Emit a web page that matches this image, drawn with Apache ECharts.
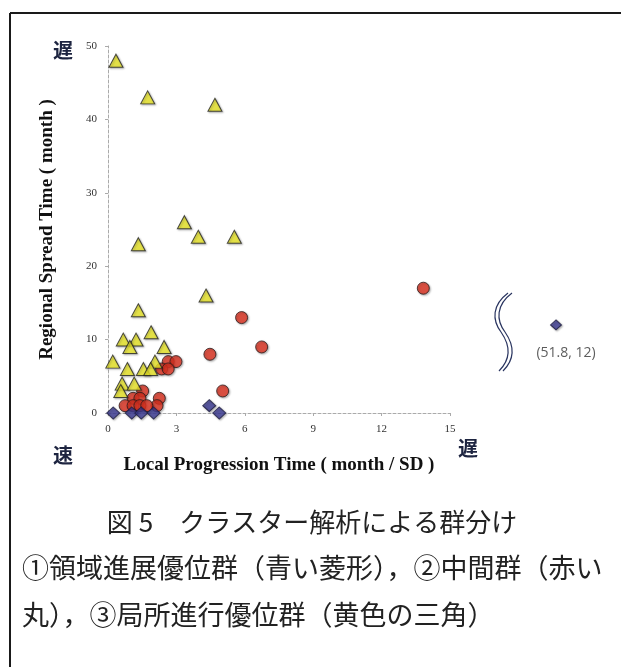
<!DOCTYPE html>
<html>
<head>
<meta charset="utf-8">
<script src="https://cdn.jsdelivr.net/npm/echarts@6/dist/echarts.min.js"></script>
<style>
html,body{margin:0;padding:0;background:#fff;}
#c{width:621px;height:667px;}
</style>
</head>
<body>
<div id="c"></div>
<script>
// ---- data ----
const xTicks = [0, 3, 6, 9, 12, 15];
const yTicks = [0, 10, 20, 30, 40, 50];

// ③ yellow triangles
const triX = [0.35, 1.74, 4.69, 3.35, 3.96, 5.54, 1.33, 4.3, 1.33, 1.89, 0.67, 1.23, 0.96, 2.46, 0.21, 2.06, 0.85, 1.55, 1.87, 0.62, 1.15, 0.56];
const triY = [48, 43, 42, 26, 24, 24, 23, 16, 14, 11, 10, 10, 9, 9, 7, 7, 6, 6, 6, 4, 4, 3];

// ② red circles
const cirX = [13.83, 5.86, 6.74, 4.47, 2.64, 2.98, 2.35, 2.64, 5.03, 1.52, 2.25, 1.1, 1.4, 2.15, 0.75, 1.1, 1.4, 1.7];
const cirY = [17, 13, 9, 8, 7, 7, 6, 6, 3, 3, 2, 2, 2, 1, 1, 1, 1, 1];

// ① blue diamonds
const diaX = [0.23, 1.04, 1.46, 2.0, 4.44, 4.88];
const diaY = [0, 0, 0, 0, 1, 0];

// off-scale outlier (beyond axis break)
const outX = [51.8];
const outY = [12];

const xTitle = 'Local Progression Time ( month / SD )';
const yTitle = 'Regional Spread Time ( month )';
const caption1 = '図 5　クラスター解析による群分け';
const caption2 = '①領域進展優位群（青い菱形），②中間群（赤い';
const caption3 = '丸），③局所進行優位群（黄色の三角）';

// ---- chart ----
const zip = (xs, ys) => xs.map((x, i) => [x, ys[i]]);
const shadow = {shadowColor: 'rgba(0,0,0,0.35)', shadowBlur: 2, shadowOffsetX: 1, shadowOffsetY: 1};
const serif = '"Liberation Serif", "DejaVu Serif", serif';
const jp = '"Noto Sans CJK JP", sans-serif';

const chart = echarts.init(document.getElementById('c'), null, {renderer: 'canvas'});
chart.setOption({
  animation: false,
  backgroundColor: '#fff',
  grid: [
    {left: 108, top: 46, width: 342, bottom: 254},
    {left: 520, top: 46, width: 80, bottom: 254}
  ],
  xAxis: [
    {
      gridIndex: 0, type: 'value', min: xTicks[0], max: xTicks[xTicks.length - 1], interval: 3,
      name: xTitle, nameLocation: 'middle', nameGap: 43,
      nameTextStyle: {fontFamily: serif, fontWeight: 'bold', fontSize: 19, color: '#111'},
      axisLine: {show: true, lineStyle: {color: '#aaa', type: [3, 2], width: 1}},
      axisTick: {show: true, length: 3, lineStyle: {color: '#aaa'}},
      axisLabel: {fontFamily: serif, fontSize: 11, color: '#333', margin: 11},
      splitLine: {show: false}
    },
    {gridIndex: 1, type: 'value', min: 50, max: 54, show: false}
  ],
  yAxis: [
    {
      gridIndex: 0, type: 'value', min: yTicks[0], max: yTicks[yTicks.length - 1], interval: 10,
      name: yTitle, nameLocation: 'middle', nameGap: 51, nameRotate: 90,
      nameTextStyle: {fontFamily: serif, fontWeight: 'bold', fontSize: 19, color: '#111'},
      axisLine: {show: true, lineStyle: {color: '#aaa', type: [3, 2], width: 1}},
      axisTick: {show: true, length: 3, lineStyle: {color: '#aaa'}},
      axisLabel: {fontFamily: serif, fontSize: 11, color: '#333', margin: 11},
      splitLine: {show: false}
    },
    {gridIndex: 1, type: 'value', min: 0, max: 50, show: false}
  ],
  series: [
    {
      type: 'scatter', xAxisIndex: 0, yAxisIndex: 0, symbol: 'circle', symbolSize: 12,
      itemStyle: Object.assign({color: '#e03322', borderColor: '#2a1a1a', borderWidth: 1}, shadow),
      data: zip(cirX, cirY)
    },
    {
      type: 'scatter', xAxisIndex: 0, yAxisIndex: 0, symbol: 'triangle', symbolSize: [14, 13],
      itemStyle: Object.assign({color: '#eeea2a', borderColor: '#222', borderWidth: 1}, shadow),
      data: zip(triX, triY)
    },
    {
      type: 'scatter', xAxisIndex: 0, yAxisIndex: 0, symbol: 'diamond', symbolSize: [13, 12],
      itemStyle: Object.assign({color: '#3d3c96', borderColor: '#1c1c40', borderWidth: 1}, shadow),
      data: zip(diaX, diaY)
    },
    {
      type: 'scatter', xAxisIndex: 1, yAxisIndex: 1, symbol: 'diamond', symbolSize: [11, 10],
      itemStyle: Object.assign({color: '#3d3c96', borderColor: '#1c1c40', borderWidth: 1}, shadow),
      label: {
        show: true, position: 'bottom', distance: 16, offset: [10, 0],
        formatter: p => '(' + p.value[0] + ', ' + p.value[1] + ')',
        fontFamily: '"Open Sans", sans-serif', fontSize: 14, color: '#333'
      },
      data: zip(outX, outY)
    }
  ],
  graphic: [
    // frame
    {type: 'line', shape: {x1: 10, y1: 13, x2: 621, y2: 13}, style: {stroke: '#1a1a1a', lineWidth: 2}},
    {type: 'line', shape: {x1: 10, y1: 13, x2: 10, y2: 667}, style: {stroke: '#1a1a1a', lineWidth: 2}},
    // slow / fast markers
    {type: 'text', x: 63, y: 50, style: {text: '遅', font: 'bold 20px ' + jp, fill: '#1d2440', textAlign: 'center', textVerticalAlign: 'middle'}},
    {type: 'text', x: 63, y: 455, style: {text: '速', font: 'bold 20px ' + jp, fill: '#1d2440', textAlign: 'center', textVerticalAlign: 'middle'}},
    {type: 'text', x: 468, y: 448, style: {text: '遅', font: 'bold 20px ' + jp, fill: '#1d2440', textAlign: 'center', textVerticalAlign: 'middle'}},
    // axis break mark
    {type: 'bezierCurve', shape: {x1: 508, y1: 293, x2: 501, y2: 332, cpx1: 492, cpy1: 305, cpx2: 492, cpy2: 320}, style: {stroke: '#2a3560', lineWidth: 1.2, fill: null}},
    {type: 'bezierCurve', shape: {x1: 501, y1: 332, x2: 499, y2: 371, cpx1: 510, cpy1: 345, cpx2: 512, cpy2: 358}, style: {stroke: '#2a3560', lineWidth: 1.2, fill: null}},
    {type: 'bezierCurve', shape: {x1: 512, y1: 293, x2: 505, y2: 332, cpx1: 496, cpy1: 305, cpx2: 496, cpy2: 320}, style: {stroke: '#2a3560', lineWidth: 1.2, fill: null}},
    {type: 'bezierCurve', shape: {x1: 505, y1: 332, x2: 503, y2: 371, cpx1: 514, cpy1: 345, cpx2: 516, cpy2: 358}, style: {stroke: '#2a3560', lineWidth: 1.2, fill: null}},
    // caption
    {type: 'text', x: 312, y: 522, style: {text: caption1, font: '26px ' + jp, fill: '#222', textAlign: 'center', textVerticalAlign: 'middle'}},
    {type: 'text', x: 22, y: 568, style: {text: caption2, font: '27px ' + jp, fill: '#222', textAlign: 'left', textVerticalAlign: 'middle'}},
    {type: 'text', x: 22, y: 615, style: {text: caption3, font: '27px ' + jp, fill: '#222', textAlign: 'left', textVerticalAlign: 'middle'}}
  ]
});
</script>
</body>
</html>
